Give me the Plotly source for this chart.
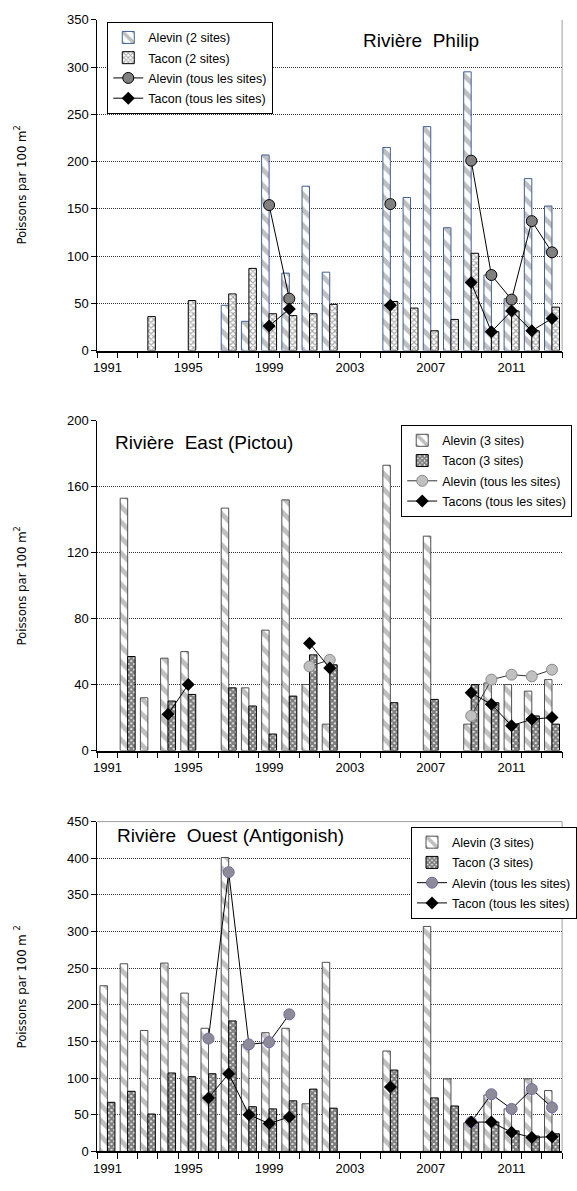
import plotly.graph_objects as go

years = list(range(1991, 2014))
tick_years = [1991, 1995, 1999, 2003, 2007, 2011]

# Rivière Philip
philip_alevin_2 = [None, None, None, None, None, None, 48, 31, 207, 82, 174, 83, None, None, 215, 162, 237, 130, 295, 80, 55, 182, 153]
philip_tacon_2 = [None, None, 36, None, 53, None, 60, 87, 39, 37, 39, 49, None, None, 52, 45, 21, 33, 103, 20, 42, 21, 46]
philip_alevin_tous = [None] * 8 + [154, 55, None, None, None, None, 155, None, None, None, 201, 80, 54, 137, 104]
philip_tacon_tous = [None] * 8 + [26, 44, None, None, None, None, 48, None, None, None, 72, 20, 42, 21, 34]

# Rivière East (Pictou)
east_alevin_3 = [None, 153, 32, 56, 60, None, 147, 38, 73, 152, 40, 16, None, None, 173, None, 130, None, 16, 41, 40, 36, 43]
east_tacon_3 = [None, 57, None, 30, 34, None, 38, 27, 10, 33, 58, 52, None, None, 29, None, 31, None, 40, 29, 16, 21, 16]
east_alevin_tous = [None] * 10 + [51, 55] + [None] * 6 + [21, 43, 46, 45, 49]
east_tacon_tous = [None, None, None, 22, 40] + [None] * 5 + [65, 50] + [None] * 6 + [35, 28, 15, 19, 20]

# Rivière Ouest (Antigonish)
ouest_alevin_3 = [226, 256, 165, 257, 216, 168, 401, 146, 162, 168, 65, 258, None, None, 137, None, 307, 99, 39, 77, 58, 99, 83]
ouest_tacon_3 = [67, 82, 51, 107, 102, 106, 178, 61, 58, 69, 85, 59, None, None, 111, None, 73, 62, 39, 40, 28, 21, 24]
ouest_alevin_tous = [None] * 5 + [154, 381, 146, 149, 187] + [None] * 8 + [40, 78, 58, 85, 60]
ouest_tacon_tous = [None] * 5 + [73, 106, 50, 38, 47] + [None] * 4 + [88] + [None] * 3 + [40, 40, 26, 19, 20]

W, H = 577, 1191
FONT = "Liberation Sans, Arial, sans-serif"
NARROW = "Liberation Sans Narrow, DejaVu Sans Condensed, Liberation Sans, sans-serif"

# pixel layout of the three plot areas
x0, x1 = 94, 562
panels_px = [(13, 348), (419, 753), (825, 1159)]

def ydom(top, bot):
    return [1 - bot / H, 1 - top / H]

fig = go.Figure()

BW = 0.37

def add_panel(i, alevin, tacon, alev_tous, tac_tous, names, st):
    xa = "x" if i == 1 else f"x{i}"
    ya = "y" if i == 1 else f"y{i}"
    leg = "legend" if i == 1 else f"legend{i}"
    fig.add_trace(go.Bar(
        x=years, y=alevin, name=names[0], xaxis=xa, yaxis=ya, legend=leg,
        legendgroup=f"a{i}", width=BW, offset=-BW,
        marker=dict(color="white", line=dict(color=st["alev_edge"], width=1),
                    pattern=dict(shape="\\", fgcolor="#7f7f7f", bgcolor="white",
                                 size=11, solidity=0.45, fillmode="overlay")),
    ))
    fig.add_trace(go.Bar(
        x=years, y=tacon, name=names[1], xaxis=xa, yaxis=ya, legend=leg,
        legendgroup=f"b{i}", width=BW, offset=0,
        marker=dict(color="white", line=dict(color="black", width=1),
                    pattern=dict(shape="x", fgcolor=st["tac_fg"], bgcolor="white",
                                 size=st["tac_size"], solidity=st["tac_sol"], fillmode="overlay")),
    ))
    fig.add_trace(go.Scatter(
        x=years, y=alev_tous, name=names[2], xaxis=xa, yaxis=ya, legend=leg,
        legendgroup=f"c{i}", mode="lines+markers", connectgaps=False,
        line=dict(color=st["line_col"], width=1),
        marker=dict(symbol="circle", size=11, color=st["circ_fill"],
                    line=dict(color=st["circ_edge"], width=1)),
    ))
    fig.add_trace(go.Scatter(
        x=years, y=tac_tous, name=names[3], xaxis=xa, yaxis=ya, legend=leg,
        legendgroup=f"d{i}", mode="lines+markers", connectgaps=False,
        line=dict(color="black", width=1),
        marker=dict(symbol="diamond", size=10, color="black"),
    ))

add_panel(1, philip_alevin_2, philip_tacon_2, philip_alevin_tous, philip_tacon_tous,
          ["Alevin (2 sites)", "Tacon (2 sites)", "Alevin (tous les sites)", "Tacon (tous les sites)"],
          dict(alev_edge="#3f5f95", tac_fg="#555555", tac_size=4, tac_sol=0.5,
               line_col="black", circ_fill="#808080", circ_edge="black"))
add_panel(2, east_alevin_3, east_tacon_3, east_alevin_tous, east_tacon_tous,
          ["Alevin (3 sites)", "Tacon (3 sites)", "Alevin (tous les sites)", "Tacons (tous les sites)"],
          dict(alev_edge="#505050", tac_fg="black", tac_size=4, tac_sol=0.8,
               line_col="#333333", circ_fill="#c0c0c0", circ_edge="#8a8a8a"))
add_panel(3, ouest_alevin_3, ouest_tacon_3, ouest_alevin_tous, ouest_tacon_tous,
          ["Alevin (3 sites)", "Tacon (3 sites)", "Alevin (tous les sites)", "Tacon (tous les sites)"],
          dict(alev_edge="#505050", tac_fg="black", tac_size=4, tac_sol=0.8,
               line_col="black", circ_fill="#8c8c98", circ_edge="#7b68a6"))

yranges = [(0, 350, 50), (0, 200, 40), (0, 450, 50)]
layout = dict(
    width=W, height=H, margin=dict(l=0, r=0, t=0, b=0),
    paper_bgcolor="white", plot_bgcolor="rgba(0,0,0,0)",
    barmode="overlay", showlegend=True,
    font=dict(family=FONT, size=13, color="black"),
)
for i, ((top, bot), (ymin, ymax, dt)) in enumerate(zip(panels_px, yranges), start=1):
    xk = "xaxis" if i == 1 else f"xaxis{i}"
    yk = "yaxis" if i == 1 else f"yaxis{i}"
    layout[xk] = dict(
        domain=[x0 / W, x1 / W], anchor="y" if i == 1 else f"y{i}",
        range=[1990.5, 2013.5], tickmode="array", tickvals=tick_years,
        ticks="", showgrid=False, zeroline=False,
        showline=True, linecolor="black", linewidth=1.5,
        tickfont=dict(family=FONT, size=13), ticklabelstandoff=4,
        minor=dict(tick0=1990.5, dtick=1, ticks="outside", ticklen=6,
                   tickcolor="black", tickwidth=1, showgrid=False),
    )
    layout[yk] = dict(
        domain=ydom(top, bot), anchor="x" if i == 1 else f"x{i}",
        range=[ymin, ymax], tick0=0, dtick=dt,
        ticks="outside", ticklen=5, tickcolor="black",
        showline=True, linecolor="black", linewidth=1,
        showgrid=True, gridcolor="#333333", gridwidth=1, griddash="1px,1px",
        zeroline=False, tickfont=dict(family=FONT, size=13),
    )

legfont = dict(family=FONT, size=12.5, color="black")
for key, lx, ly in [("legend", 104, 15), ("legend2", 400, 423), ("legend3", 410, 830)]:
    layout[key] = dict(x=lx / W, y=1 - ly / H, xanchor="left", yanchor="top",
                       bgcolor="white", bordercolor="black", borderwidth=1,
                       font=legfont, tracegroupgap=1, itemwidth=30,
                       traceorder="grouped")

fig.update_layout(**layout)

# plot-area borders (gray)
fig.add_shape(type="line", xref="paper", yref="paper", x0=x1 / W, x1=x1 / W,
              y0=1 - 348 / H, y1=1 - 13 / H, line=dict(color="#a0a0a0", width=1))
fig.add_shape(type="line", xref="paper", yref="paper", x0=x1 / W, x1=x1 / W,
              y0=1 - 1159 / H, y1=1 - 825 / H, line=dict(color="#a0a0a0", width=1))
fig.add_shape(type="line", xref="paper", yref="paper", x0=x0 / W, x1=x1 / W,
              y0=1 - 825 / H, y1=1 - 825 / H, line=dict(color="#a0a0a0", width=1))

titles = [
    ("Rivière  Philip", 420, 34, "center", "rgba(0,0,0,0)"),
    ("Rivière  East (Pictou)", 110, 441, "left", "rgba(0,0,0,0)"),
    ("Rivière  Ouest (Antigonish)", 112, 839, "left", "white"),
]
for txt, px, py, anc, bg in titles:
    fig.add_annotation(text=txt, xref="paper", yref="paper", x=px / W, y=1 - py / H,
                       xanchor=anc, yanchor="middle", showarrow=False,
                       font=dict(family=FONT, size=19, color="black"), bgcolor=bg)

ylabels = [("Poissons par 100 m<sup>2</sup>", 180), ("Poissons par 100 m<sup>2</sup>", 586),
           ("Poissons par 100 m <sup>2</sup>", 992)]
for txt, py in ylabels:
    fig.add_annotation(text=txt, xref="paper", yref="paper", x=16 / W, y=1 - py / H,
                       xanchor="center", yanchor="middle", showarrow=False, textangle=-90,
                       font=dict(family=NARROW, size=13, color="black"))

fig.write_html("out.html")
